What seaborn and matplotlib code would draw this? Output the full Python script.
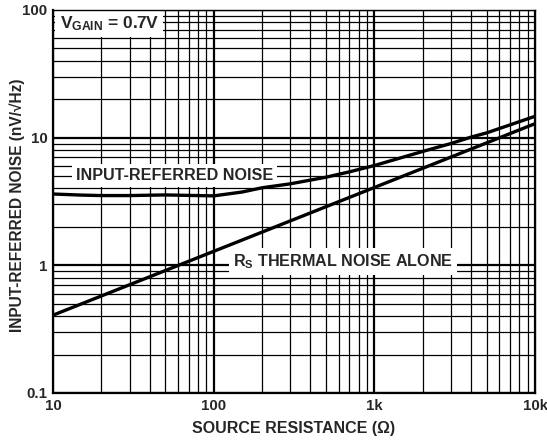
import numpy as np
import pandas as pd
import matplotlib
matplotlib.use("Agg")
import matplotlib.pyplot as plt
import seaborn as sns
from matplotlib.ticker import FixedLocator, LogLocator, NullFormatter

# Source resistance (ohm) and measured noise (nV/rtHz)
total_r = [10, 15, 20, 30, 50, 70, 100, 150, 200, 300, 500, 700,
           1000, 2000, 3000, 4000, 5000, 7000, 10000]
total_noise = [3.62, 3.55, 3.52, 3.52, 3.56, 3.53, 3.50, 3.75, 4.05, 4.35,
               4.9, 5.4, 6.05, 7.8, 9.0, 10.1, 10.9, 12.6, 14.7]

thermal_r = [10, 100, 1000, 10000]
thermal_noise = [0.407, 1.287, 4.07, 12.87]

x_ticks = [10, 100, 1000, 10000]
x_tick_labels = ["10", "100", "1k", "10k"]
y_ticks = [0.1, 1, 10, 100]
y_tick_labels = ["0.1", "1", "10", "100"]

sns.set_style("white")
plt.rcParams["font.family"] = ["Liberation Sans", "DejaVu Sans"]
plt.rcParams["font.weight"] = "bold"
plt.rcParams["mathtext.fontset"] = "custom"
plt.rcParams["mathtext.rm"] = "Liberation Sans:bold"
plt.rcParams["mathtext.bf"] = "Liberation Sans:bold"
plt.rcParams["mathtext.it"] = "Liberation Sans:bold"

df_total = pd.DataFrame({"r": total_r, "noise": total_noise})
df_therm = pd.DataFrame({"r": thermal_r, "noise": thermal_noise})

fig = plt.figure(figsize=(5.47, 4.42), dpi=100)
ax = fig.add_axes([53 / 547, 1 - 393 / 442, (535 - 53) / 547, (393 - 10) / 442])

ax.set_xscale("log")
ax.set_yscale("log")
ax.set_xlim(10, 10000)
ax.set_ylim(0.1, 100)

# grid: heavier decade lines, lighter minor lines
ax.xaxis.set_minor_locator(LogLocator(base=10, subs=np.arange(2, 10)))
ax.yaxis.set_minor_locator(LogLocator(base=10, subs=np.arange(2, 10)))
ax.xaxis.set_minor_formatter(NullFormatter())
ax.yaxis.set_minor_formatter(NullFormatter())
ax.grid(which="major", color="black", linewidth=1.6, zorder=1)
ax.grid(which="minor", color="black", linewidth=0.9, zorder=1)
ax.set_axisbelow(True)

sns.lineplot(data=df_total, x="r", y="noise", ax=ax, color="black",
             linewidth=2.4, zorder=3)
sns.lineplot(data=df_therm, x="r", y="noise", ax=ax, color="black",
             linewidth=2.4, zorder=3)

ax.xaxis.set_major_locator(FixedLocator(x_ticks))
ax.yaxis.set_major_locator(FixedLocator(y_ticks))
ax.set_xticklabels(x_tick_labels)
ax.set_yticklabels(y_tick_labels)
ax.tick_params(axis="both", which="both", length=0, labelsize=10.8, pad=4)
for lbl in ax.get_xticklabels() + ax.get_yticklabels():
    lbl.set_fontweight("bold")

for side in ["left", "bottom", "top", "right"]:
    ax.spines[side].set_visible(True)
    ax.spines[side].set_color("black")
ax.spines["left"].set_linewidth(1.6)
ax.spines["bottom"].set_linewidth(1.6)
ax.spines["top"].set_linewidth(1.0)
ax.spines["right"].set_linewidth(1.0)

ax.set_xlabel("SOURCE RESISTANCE (Ω)", fontsize=11.5, fontweight="bold")
ax.set_ylabel("INPUT-REFERRED NOISE (nV/√Hz)", fontsize=11.2, fontweight="bold")
ax.xaxis.label.set_va("center")
ax.yaxis.label.set_va("center")
ax.xaxis.set_label_coords(0.5, (393 - 428) / 383)
ax.yaxis.set_label_coords((17 - 53) / 482, (393 - 205) / 383)

# label boxes hide the grid but sit beneath the curves
box = dict(boxstyle="square,pad=0.25", facecolor="white", edgecolor="none")
ax.text(11.0, 78, r"V$_{\mathrm{GAIN}}$ = 0.7V", fontsize=12.5, fontweight="bold",
        ha="left", va="center", bbox=box, zorder=2.5)
ax.text(57, 5.07, "INPUT-REFERRED NOISE", fontsize=11.6, fontweight="bold",
        ha="center", va="center", bbox=box, zorder=2.5)
ax.text(640, 1.07, r"R$_{\mathrm{S}}$ THERMAL NOISE ALONE", fontsize=11.6,
        fontweight="bold", ha="center", va="center", bbox=box, zorder=2.5)

fig.savefig("out.png", dpi=100)
